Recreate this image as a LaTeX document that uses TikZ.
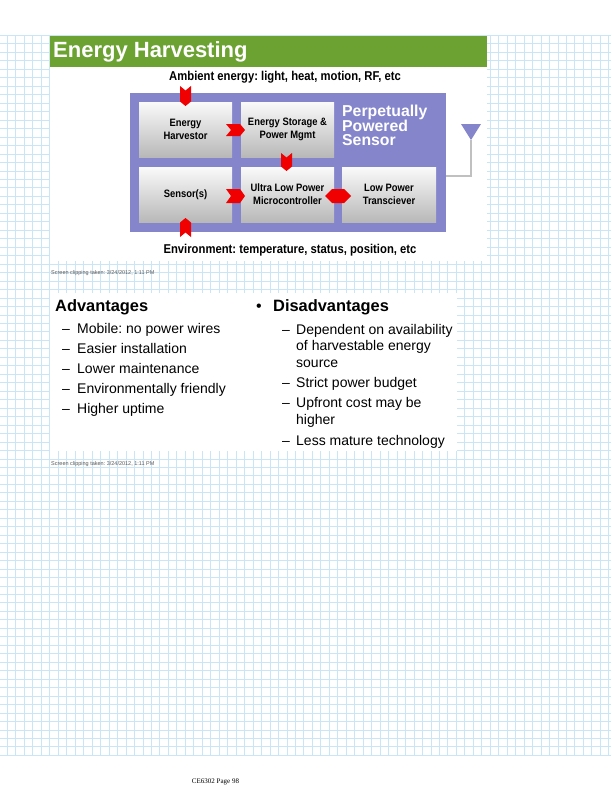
\documentclass[tikz,border=0pt]{standalone}
\usepackage{fontspec}
\setmainfont{Liberation Sans}
\newfontfamily\narrowfont[FakeStretch=0.88]{Liberation Sans}
\newfontfamily\seriffont{Liberation Serif}
\usetikzlibrary{shapes.symbols,calc}
\frenchspacing
\definecolor{gridblue}{RGB}{202,230,246}
\definecolor{hgreen}{RGB}{108,162,50}
\definecolor{panelpurple}{RGB}{133,133,204}
\definecolor{arrred}{RGB}{240,0,0}
\definecolor{boxtop}{RGB}{250,250,250}
\definecolor{boxbot}{RGB}{184,184,184}
\definecolor{antgray}{RGB}{192,192,192}
\definecolor{cliptext}{RGB}{90,90,90}
% vertical chevron: centre, half width, half height, depth (negative height/depth points up)
\newcommand\chevvert[4]{\fill[arrred] ($(#1)+(-#2,-#3)$) -- ($(#1)+(0,-#3+#4)$) -- ($(#1)+(#2,-#3)$) -- ($(#1)+(#2,#3-#4)$) -- ($(#1)+(0,#3)$) -- ($(#1)+(-#2,#3-#4)$) -- cycle;}
% horizontal chevron: centre, half length, half height, depth (points right)
\newcommand\chevhorz[4]{\fill[arrred] ($(#1)+(-#2,-#3)$) -- ($(#1)+(#2-#4,-#3)$) -- ($(#1)+(#2,0)$) -- ($(#1)+(#2-#4,#3)$) -- ($(#1)+(-#2,#3)$) -- ($(#1)+(-#2+#4,0)$) -- cycle;}
\tikzset{
  gridline/.style={draw=gridblue, line width=0.8pt},
  blockbox/.style={rectangle, minimum width=93, minimum height=55, inner sep=0,
    top color=boxtop, bottom color=boxbot, align=center,
    font=\narrowfont\bfseries\fontsize{10.7}{13}\selectfont},
  caption/.style={font=\narrowfont\bfseries\fontsize{12.8}{15}\selectfont, inner sep=0},
  clipnote/.style={font=\fontsize{5.5}{6}\selectfont, text=cliptext, anchor=base west, inner sep=0},
  listhead/.style={font=\bfseries\fontsize{16.4}{19}\selectfont, anchor=base west, inner sep=0},
  listitem/.style={font=\fontsize{14}{16.7}\selectfont, anchor=base west, inner sep=0, align=left},
  ppsline/.style={anchor=base west, inner sep=0, text=white, text height=11, text depth=1,
    font=\bfseries\fontsize{15.8}{14.8}\selectfont},
}
\begin{document}
\begin{tikzpicture}[x=1pt,y=-1pt]
\useasboundingbox[fill=white] (0,0) rectangle (611,792);
% grid
\foreach \i in {0,...,71} \draw[gridline] ({7.4+\i*8.47},35.4) -- ({7.4+\i*8.47},755.4);
\foreach \j in {0,...,85} \draw[gridline] (0,{35.4+\j*8.47}) -- (611,{35.4+\j*8.47});
% clipping backgrounds
\fill[white] (50,36) rectangle (487,261);
\fill[white] (50,293) rectangle (457,451);
% title bar
\fill[hgreen] (50,36) rectangle (487,67);
\node[anchor=base west, inner sep=0, text=white, font=\bfseries\fontsize{22}{26}\selectfont] (title) at (53,57) {Energy Harvesting};
% captions
\node[caption] (ambient) at (285,77) {Ambient energy: light, heat, motion, RF, etc};
\node[caption] (environ) at (290,250) {Environment: temperature, status, position, etc};
% panel
\node[rectangle, fill=panelpurple, minimum width=316, minimum height=139, inner sep=0] (panel) at (288,162.5) {};
\node[ppsline] (pps1) at (342,116.3) {Perpetually};
\node[ppsline] (pps2) at (342,131.1) {Powered};
\node[ppsline] (pps3) at (342,145.9) {Sensor};
% blocks
\node[blockbox] (harv) at (185.5,129.5) {Energy\\Harvestor};
\node[blockbox] (stor) at (287.5,129.5) {Energy Storage \&\\Power Mgmt};
\node[blockbox] (sens) at (185.5,194.5) {Sensor(s)};
\node[blockbox] (mcu) at (287.5,194.5) {Ultra Low Power\\Microcontroller};
\node[blockbox, minimum width=94] (trx) at (389,194.5) {Low Power\\Transciever};
% antenna
\coordinate (ant) at (471,140);
\draw[antgray, line width=2pt] ([yshift=-13.5pt]panel.east) -| (ant);
\fill[panelpurple] (461,124) -- (481,124) -- (ant) -- cycle;
% arrows
\coordinate (a1) at (harv.north |- 0,96);
\coordinate (a2) at ($(harv.east)!0.5!(stor.west)+(-1,0.5)$);
\coordinate (a3) at ($(stor.south)!0.5!(mcu.north)+(-1,0)$);
\coordinate (a4) at ($(sens.east)!0.5!(mcu.west)+(-1,1.5)$);
\coordinate (a6) at (sens.south |- 0,227.5);
\chevvert{a1}{5.5}{10}{4.5}
\chevhorz{a2}{9.5}{6}{5}
\chevvert{a3}{5.5}{9}{4.5}
\chevhorz{a4}{9.5}{7}{5}
\chevvert{a6}{5.5}{-9.5}{-4.5}
\node[shape=signal, signal to=east and west, fill=arrred, draw=none, inner sep=0, minimum width=26, minimum height=14] (a5) at ([yshift=-1.5pt]$(mcu.east)!0.5!(trx.west)$) {};
% clip notes
\node[clipnote] (note1) at (51,274) {Screen clipping taken: 3/24/2012, 1:11 PM};
\node[clipnote] (note2) at (51,465) {Screen clipping taken: 3/24/2012, 1:11 PM};
% advantages
\node[listhead] (adv) at (55,311.7) {Advantages};
\foreach \t [count=\k] in {Mobile: no power wires, Easier installation, Lower maintenance, Environmentally friendly, Higher uptime} {
  \node[listitem] (advd\k) at (62,{313.3+20*\k}) {–};
  \node[listitem] (advt\k) at (77,{313.3+20*\k}) {\t};
}
% disadvantages
\node[listitem, font=\fontsize{16}{19}\selectfont] (bul) at (256,311.7) {•};
\node[listhead] (dis) at (273,311.7) {Disadvantages};
\node[listitem] (disd1) at (282,334) {–};
\node[listitem] (dist1) at (296,334) {Dependent on availability};
\node[listitem] (dist1b) at (296,350.7) {of harvestable energy};
\node[listitem] (dist1c) at (296,367) {source};
\node[listitem] (disd2) at (282,387.3) {–};
\node[listitem] (dist2) at (296,387.3) {Strict power budget};
\node[listitem] (disd3) at (282,407.7) {–};
\node[listitem] (dist3) at (296,407.7) {Upfront cost may be};
\node[listitem] (dist3b) at (296,424) {higher};
\node[listitem] (disd4) at (282,445) {–};
\node[listitem] (dist4) at (296,445) {Less mature technology};
% footer
\node[anchor=base, inner sep=0, font=\seriffont\fontsize{7}{8}\selectfont] (footer) at (215.5,783) {CE6302 Page 98};
\end{tikzpicture}
\end{document}
